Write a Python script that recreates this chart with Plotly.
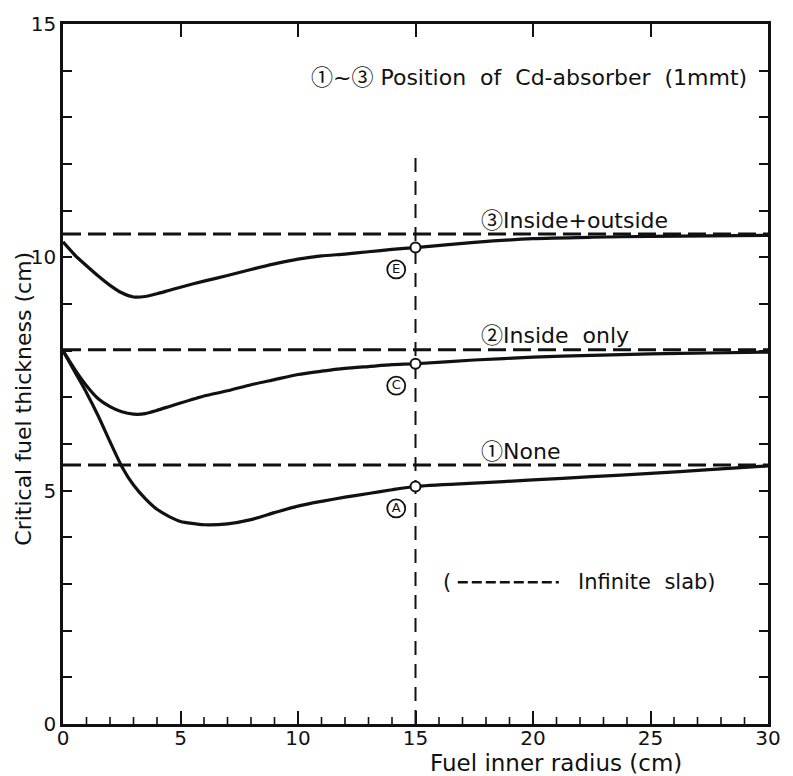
import plotly.graph_objects as go

# Fuel inner radius (cm)
radius = [0, 0.5, 1, 1.5, 2, 2.5, 3, 3.5, 4, 4.5, 5, 6, 7, 8, 9, 10, 11, 12, 13, 14, 15,
          17.5, 20, 22.5, 25, 27.5, 30]

# Critical fuel thickness (cm) for each Cd-absorber position
thick_none = [8.0, 7.55, 7.1, 6.6, 6.05, 5.52, 5.12, 4.83, 4.6, 4.45, 4.34, 4.27, 4.29, 4.38,
              4.53, 4.67, 4.77, 4.86, 4.94, 5.02, 5.09, 5.16, 5.23, 5.30, 5.37, 5.45, 5.53]
thick_inside = [8.0, 7.6, 7.25, 6.97, 6.80, 6.69, 6.64, 6.65, 6.72, 6.80, 6.88, 7.03, 7.14, 7.27,
                7.38, 7.49, 7.56, 7.62, 7.66, 7.70, 7.72, 7.80, 7.86, 7.90, 7.93, 7.95, 7.97]
thick_both = [10.33, 10.05, 9.82, 9.6, 9.4, 9.24, 9.15, 9.16, 9.22, 9.29, 9.36, 9.49, 9.61, 9.74,
              9.86, 9.96, 10.03, 10.07, 10.12, 10.17, 10.21, 10.32, 10.40, 10.43, 10.45, 10.46, 10.47]

# Infinite-slab critical thickness for each case
slab_values = [5.55, 8.02, 10.5]
slab_marks = ["①", "②", "③"]
slab_names = ["None", "Inside  only", "Inside+outside"]

# Reference radius with marked points
ref_radius = 15
ref_top = 12.2
point_letters = ["A", "C", "E"]

x_range = [0, 30]
y_range = [0, 15]
x_ticks = [0, 5, 10, 15, 20, 25, 30]
x_minor = [v for v in range(1, 30) if v % 5]
y_ticks = [0, 5, 10, 15]

INK = "#111111"
FONT = "DejaVu Sans"
CJK = "Noto Sans CJK JP"


def circled(ch):
    return f'<span style="font-family:{CJK}">{ch}</span>'


fig = go.Figure()

# infinite slab levels
for v in slab_values:
    fig.add_trace(go.Scatter(
        x=x_range, y=[v, v], mode="lines",
        line=dict(color=INK, width=2.8, dash="18px,7px"),
        hoverinfo="skip", showlegend=False))

# vertical reference line
fig.add_trace(go.Scatter(
    x=[ref_radius, ref_radius], y=[0, ref_top], mode="lines",
    line=dict(color=INK, width=2, dash="14px,9px"),
    hoverinfo="skip", showlegend=False))

# critical thickness curves
series = [thick_none, thick_inside, thick_both]
for vals in series:
    fig.add_trace(go.Scatter(
        x=radius, y=vals, mode="lines",
        line=dict(color=INK, width=3.2, shape="spline", smoothing=0.6),
        showlegend=False))

# open circles at the reference radius
ref_idx = radius.index(ref_radius)
fig.add_trace(go.Scatter(
    x=[ref_radius] * 3, y=[s[ref_idx] for s in series], mode="markers",
    marker=dict(size=10, color="white", line=dict(color=INK, width=2)),
    showlegend=False, hoverinfo="skip"))

# circled letters naming the marked points
fig.add_trace(go.Scatter(
    x=[ref_radius - 0.82] * 3, y=[s[ref_idx] - 0.47 for s in series],
    mode="markers+text", text=point_letters, textposition="middle center",
    textfont=dict(family=FONT, size=13, color=INK),
    marker=dict(size=18, symbol="circle-open", color=INK, line=dict(width=1.8)),
    showlegend=False, hoverinfo="skip"))

# short unit ticks along the bottom frame only
minor_rise = 7 / 46.8
mx, my = [], []
for t in x_minor:
    mx += [t, t, None]
    my += [y_range[0], y_range[0] + minor_rise, None]
fig.add_trace(go.Scatter(
    x=mx, y=my, mode="lines", line=dict(color=INK, width=1.6),
    showlegend=False, hoverinfo="skip"))

annotations = []
# case labels above each slab line
for v, mark, name in zip(slab_values, slab_marks, slab_names):
    annotations.append(dict(x=17.7, y=v + 0.35, xref="x", yref="y",
                            text=circled(mark) + name,
                            showarrow=False, xanchor="left", yanchor="middle",
                            font=dict(family=FONT, size=22, color=INK)))
annotations += [
    dict(x=10.45, y=13.9, xref="x", yref="y",
         text=circled("①") + "~" + circled("③") + " Position  of  Cd-absorber  (1mmt)",
         showarrow=False, xanchor="left", yanchor="middle",
         font=dict(family=FONT, size=22, color=INK)),
    dict(x=16.07, y=3.04, xref="x", yref="y", text="(",
         showarrow=False, xanchor="left", yanchor="middle",
         font=dict(family=FONT, size=21, color=INK)),
    dict(x=21.85, y=3.04, xref="x", yref="y", text="Infinite  slab)",
         showarrow=False, xanchor="left", yanchor="middle",
         font=dict(family=FONT, size=21, color=INK)),
    dict(x=0.699, y=-0.056, xref="paper", yref="paper", text="Fuel inner radius (cm)",
         showarrow=False, xanchor="center", yanchor="middle",
         font=dict(family=FONT, size=23, color=INK)),
    dict(x=-0.056, y=0.464, xref="paper", yref="paper", text="Critical fuel thickness (cm)",
         showarrow=False, xanchor="center", yanchor="middle", textangle=-90,
         font=dict(family=FONT, size=22, color=INK)),
]

# dashed sample inside the key text
shapes = [dict(type="line", xref="x", yref="y", x0=16.8, x1=21.1, y0=3.04, y1=3.04,
               line=dict(color=INK, width=2.5, dash="10px,4px"))]

fig.update_layout(
    width=793, height=776,
    margin=dict(l=63, r=17, t=22, b=52),
    paper_bgcolor="white", plot_bgcolor="white",
    font=dict(family=FONT, size=20, color=INK),
    annotations=annotations, shapes=shapes,
    xaxis=dict(range=x_range, tickvals=x_ticks, ticks="inside", ticklen=13, tickwidth=2,
               tickcolor=INK, showline=True, linecolor=INK, linewidth=2.5, mirror="ticks",
               showgrid=False, zeroline=False, ticklabelstandoff=-6,
               tickfont=dict(family=FONT, size=20, color=INK)),
    yaxis=dict(range=y_range, tickvals=y_ticks, ticks="inside", ticklen=9, tickwidth=2,
               tickcolor=INK, showline=True, linecolor=INK, linewidth=2.5, mirror="allticks",
               showgrid=False, zeroline=False,
               minor=dict(dtick=1, ticks="inside", ticklen=9, tickwidth=2, tickcolor=INK),
               tickfont=dict(family=FONT, size=20, color=INK)),
)

fig.write_html("out.html")
